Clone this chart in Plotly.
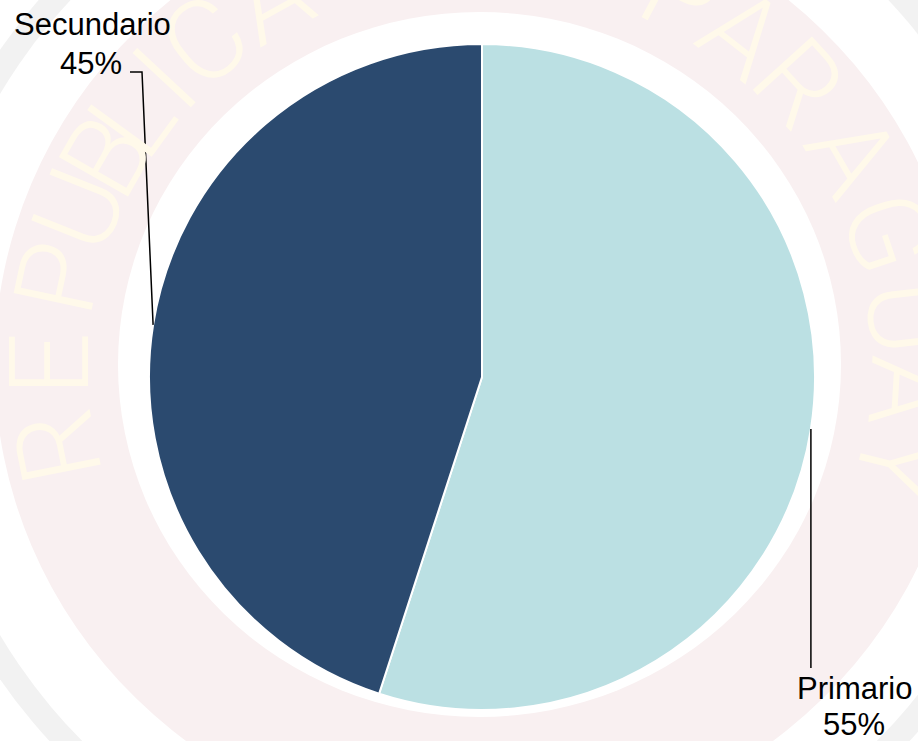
import math
import plotly.graph_objects as go

# ---- data ----
labels = ["Primario", "Secundario"]
values = [55, 45]
colors = ["#BBE0E3", "#2B4A6F"]

# ---- watermark text (decoration) ----
wm_text = "REPUBLICA DEL PARAGUAY"
wm_angles = [258.7, 270, 282, 291.7, 299.8, 306, 313, 320.5, 331,
             None, 351, 0, 8, None,
             28, 37.8, 47.8, 60, 71.8, 83.6, 93.6, 104]

W, H = 918, 741
CX, CY, R = 482, 377, 333          # pie centre / radius in px
WX, WY, WR = 479.5, 364.5, 0.975   # watermark centre and y/x ratio


def px(x):
    return x / W


def py(y):
    return 1 - y / H


fig = go.Figure()
fig.add_trace(go.Pie(
    labels=labels, values=values, sort=False, direction="clockwise", rotation=0,
    marker=dict(colors=colors, line=dict(color="white", width=2)),
    textinfo="none", hoverinfo="label+percent", showlegend=False,
    domain=dict(x=[px(CX - R), px(CX + R)], y=[py(CY + R), py(CY - R)]),
))

shapes = []
# watermark rings (ellipses), drawn largest first
for a, col in [(578, "#F2F2F2"), (554, "white"), (485, "#F9F0F1"), (361.5, "white")]:
    b = a * WR
    shapes.append(dict(type="circle", xref="paper", yref="paper", layer="below",
                       x0=px(WX - a), x1=px(WX + a), y0=py(WY + b), y1=py(WY - b),
                       fillcolor=col, line=dict(width=0)))

annotations = []
rl = 430
for ch, th in zip(wm_text, wm_angles):
    if th is None or ch == " ":
        continue
    t = math.radians(th)
    x = WX + rl * math.sin(t)
    y = WY - rl * WR * math.cos(t)
    ang = th if th <= 180 else th - 360
    annotations.append(dict(text=ch, x=px(x), y=py(y), xref="paper", yref="paper",
                            xanchor="center", yanchor="middle", showarrow=False,
                            textangle=ang, borderpad=0,
                            font=dict(family="Roboto, DejaVu Sans", size=112,
                                      color="#FFF9EA", weight=300)))

# data labels with leader lines
total = sum(values)
cum = 0
mids = []
for v in values:
    mids.append((cum + v / 2) / total * 360)
    cum += v


def edge(theta):
    t = math.radians(theta)
    return CX + R * math.sin(t), CY - R * math.cos(t)


lab_font = dict(family="Liberation Sans, Arial", size=31, color="black")
# Primario (bottom right)
ex, ey = edge(mids[0])
shapes.append(dict(type="path", xref="paper", yref="paper",
                   path=f"M {px(ex)} {py(ey)} L {px(ex)} {py(668)}",
                   line=dict(color="black", width=1.5)))
pct0 = f"{round(values[0] / total * 100)}%"
annotations.append(dict(text=labels[0], x=px(854), y=py(688), xref="paper", yref="paper",
                        xanchor="center", yanchor="middle", showarrow=False, font=lab_font))
annotations.append(dict(text=pct0, x=px(854), y=py(724), xref="paper", yref="paper",
                        xanchor="center", yanchor="middle", showarrow=False, font=lab_font))
# Secundario (top left)
ex, ey = edge(mids[1])
shapes.append(dict(type="path", xref="paper", yref="paper",
                   path=f"M {px(ex)} {py(ey)} L {px(142)} {py(72)} L {px(130)} {py(72)}",
                   line=dict(color="black", width=1.5)))
pct1 = f"{round(values[1] / total * 100)}%"
annotations.append(dict(text=labels[1], x=px(92), y=py(25), xref="paper", yref="paper",
                        xanchor="center", yanchor="middle", showarrow=False, font=lab_font))
annotations.append(dict(text=pct1, x=px(91), y=py(63), xref="paper", yref="paper",
                        xanchor="center", yanchor="middle", showarrow=False, font=lab_font))

fig.update_layout(width=W, height=H, margin=dict(l=0, r=0, t=0, b=0),
                  paper_bgcolor="white", plot_bgcolor="white",
                  shapes=shapes, annotations=annotations, showlegend=False)
fig.write_html("out.html", config={"displayModeBar": False},
               post_script="document.body.style.margin='0';document.body.style.overflow='hidden';")
